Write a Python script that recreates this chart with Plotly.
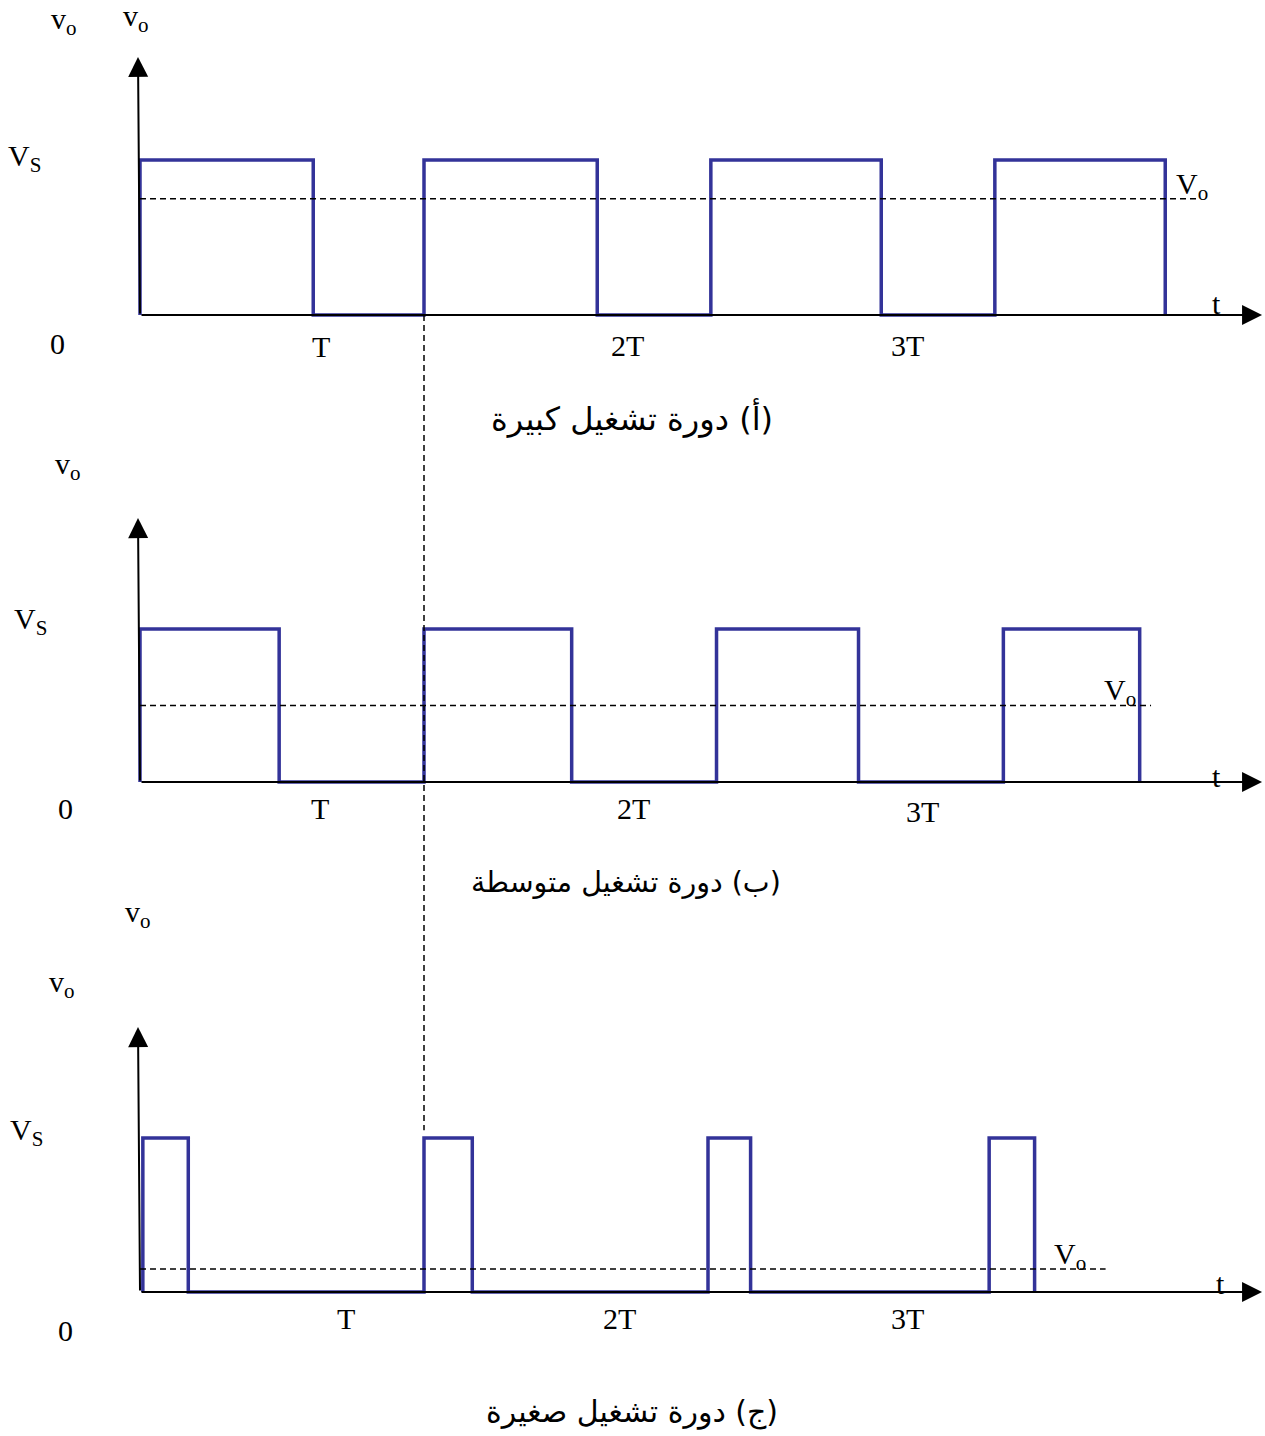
import plotly.graph_objects as go

# switching instants in units of the period T
on_a = [0.0, 1.0, 2.01, 3.01]
off_a = [0.61, 1.61, 2.61, 3.61]
on_b = [0.0, 1.0, 2.03, 3.04]
off_b = [0.49, 1.52, 2.53, 3.52]
on_c = [0.01, 1.0, 2.0, 2.99]
off_c = [0.17, 1.17, 2.15, 3.15]

vs_level = 1.0
vo_a = 0.75
vo_b = 0.50
vo_c = 0.15

tick_labels = ['T', '2T', '3T']
captions = ['\u200f(أ) دورة تشغيل كبيرة\u200f',
            '\u200f(ب) دورة تشغيل متوسطة\u200f',
            '\u200f(ج) دورة تشغيل صغيرة\u200f']

BLUE = '#333399'
SERIF = 'Liberation Serif, Times New Roman, serif'
W, H = 1265, 1436


def pulse_xy(on, off, level):
    xs, ys = [], []
    for t_on, t_off in zip(on, off):
        xs += [t_on, t_on, t_off, t_off]
        ys += [0, level, level, 0]
    return xs, ys


fig = go.Figure()
for on, off, yax in [(on_a, off_a, 'y'), (on_b, off_b, 'y2'), (on_c, off_c, 'y3')]:
    xs, ys = pulse_xy(on, off, vs_level)
    fig.add_trace(go.Scatter(x=xs, y=ys, mode='lines', yaxis=yax,
                             line=dict(color=BLUE, width=3.5),
                             hoverinfo='skip', showlegend=False))

ann = []
shapes = []


def txt(x, y, s, yref, size=30, family=SERIF):
    ann.append(dict(x=x, y=y, xref='x', yref=yref, text=s, showarrow=False,
                    xanchor='center', yanchor='middle',
                    font=dict(family=family, size=size, color='black')))


def arrow(x, y, ax, ay, yref):
    ann.append(dict(x=x, y=y, ax=ax, ay=ay, xref='x', yref=yref,
                    axref='x', ayref=yref, text='', showarrow=True,
                    arrowhead=2, arrowsize=2, arrowwidth=2,
                    arrowcolor='black', standoff=0, startstandoff=0))


panels = [
    dict(yref='y', vo=vo_a, top=1.665, dash_end=3.72,
         ticks=[(0.637, -0.206), (1.715, -0.194), (2.701, -0.194)],
         zero=(-0.289, -0.181), vs=(-0.405, 1.013), t=(3.789, 0.077),
         vo_lab=(3.704, 0.832), cap=(1.732, -0.665), cap_size=32,
         vlabs=[(-0.268, 1.90), (-0.014, 1.915)]),
    dict(yref='y2', vo=vo_b, top=1.725, dash_end=3.56,
         ticks=[(0.634, -0.170), (1.739, -0.170), (2.754, -0.190)],
         zero=(-0.261, -0.170), vs=(-0.387, 1.052), t=(3.789, 0.039),
         vo_lab=(3.451, 0.588), cap=(1.712, -0.654), cap_size=28.5,
         vlabs=[(-0.254, 2.065)]),
    dict(yref='y3', vo=vo_c, top=1.72, dash_end=3.40,
         ticks=[(0.725, -0.169), (1.690, -0.169), (2.704, -0.169)],
         zero=(-0.261, -0.247), vs=(-0.401, 1.039), t=(3.803, 0.058),
         vo_lab=(3.275, 0.234), cap=(1.732, -0.779), cap_size=30,
         vlabs=[(-0.007, 2.455), (-0.275, 2.0)]),
]

for p, cap in zip(panels, captions):
    yr = p['yref']
    # axes with arrows
    arrow(3.951, 0, 0, 0, yr)
    arrow(-0.007, p['top'], 0, 0, yr)
    # average output voltage
    shapes.append(dict(type='line', xref='x', yref=yr, x0=0, x1=p['dash_end'],
                       y0=p['vo'], y1=p['vo'],
                       line=dict(color='black', width=1.5, dash='6px,4px')))
    for (x, y), lab in zip(p['ticks'], tick_labels):
        txt(x, y, lab, yr)
    txt(*p['zero'], '0', yr)
    txt(*p['vs'], 'V<sub>S</sub>', yr)
    txt(*p['t'], 't', yr)
    txt(*p['vo_lab'], 'V<sub>o</sub>', yr)
    for x, y in p['vlabs']:
        txt(x, y, 'v<sub>o</sub>', yr)
    txt(*p['cap'], cap, yr, size=p['cap_size'], family='DejaVu Sans')

# vertical dashed guide at t = T through all three panels
shapes.append(dict(type='line', xref='x', yref='y', x0=1.0, x1=1.0, y0=0, y1=-5.26,
                   line=dict(color='black', width=1.5, dash='6px,4px')))

hidden = dict(visible=False, showgrid=False, zeroline=False)
fig.update_layout(
    width=W, height=H,
    margin=dict(l=0, r=0, t=0, b=0),
    paper_bgcolor='white', plot_bgcolor='white',
    xaxis=dict(range=[-140 / 284, (W - 140) / 284], **hidden),
    yaxis=dict(range=[-(H - 315) / 155, 315 / 155], **hidden),
    yaxis2=dict(range=[-(H - 782) / 153, 782 / 153], overlaying='y', **hidden),
    yaxis3=dict(range=[-(H - 1292) / 154, 1292 / 154], overlaying='y', **hidden),
    annotations=ann,
    shapes=shapes,
)

fig.write_html("out.html",
               config={'displayModeBar': False},
               post_script="document.body.style.margin='0px';"
                           "document.body.style.overflow='hidden';")
